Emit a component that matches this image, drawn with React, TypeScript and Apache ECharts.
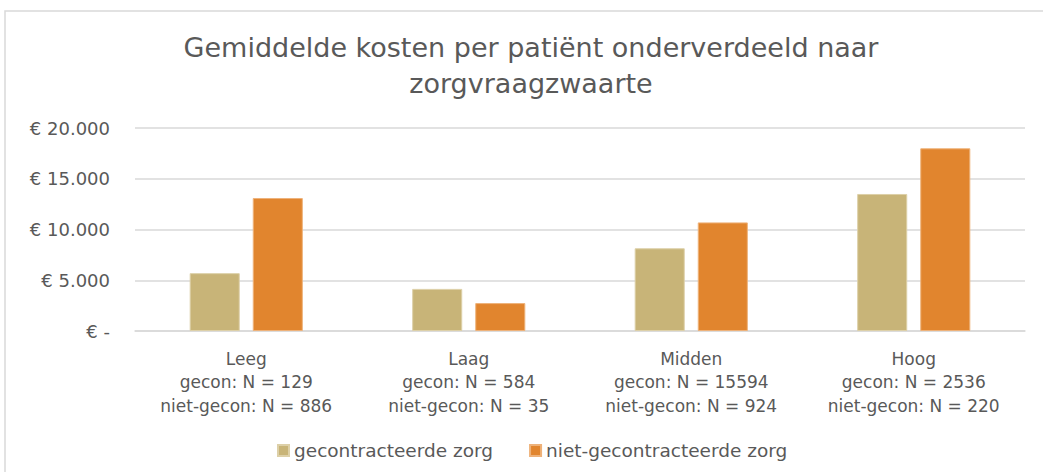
import React, { useEffect, useRef } from "react";
import * as echarts from "echarts";

const categories = ["Leeg", "Laag", "Midden", "Hoog"];
const geconN = [129, 584, 15594, 2536];
const nietGeconN = [886, 35, 924, 220];
const seriesNames = ["gecontracteerde zorg", "niet-gecontracteerde zorg"];
const gecontracteerd = [5700, 4150, 8150, 13500];
const nietGecontracteerd = [13100, 2750, 10700, 18000];
const titleLines = ["Gemiddelde kosten per patiënt onderverdeeld naar", "zorgvraagzwaarte"];

const FONT = "'DejaVu Sans', 'Open Sans', sans-serif";
const TEXT = "#595959";
const GRID = "#d9d9d9";

function formatEuro(v: number): string {
  if (v === 0) return "€ -";
  const s = String(Math.round(v)).replace(/\B(?=(\d{3})+(?!\d))/g, ".");
  return "€ " + s;
}

export default function App() {
  const ref = useRef<HTMLDivElement>(null);
  useEffect(() => {
    if (!ref.current) return;
    const chart = echarts.init(ref.current, null, { renderer: "svg" });
    const xLabels = categories.map(
      (c, i) => `${c}\ngecon: N = ${geconN[i]}\nniet-gecon: N = ${nietGeconN[i]}`
    );
    chart.setOption({
      animation: false,
      backgroundColor: "#ffffff",
      textStyle: { fontFamily: FONT },
      graphic: [
        {
          type: "rect",
          shape: { x: 5, y: 11, width: 1200, height: 600 },
          style: { fill: "none", stroke: GRID, lineWidth: 1.5 },
          silent: true,
        },
        {
          type: "text",
          x: 531,
          y: 47,
          style: {
            text: titleLines[0],
            fill: TEXT,
            fontSize: 27,
            fontFamily: FONT,
            align: "center",
            verticalAlign: "middle",
          },
        },
        {
          type: "text",
          x: 531,
          y: 83,
          style: {
            text: titleLines[1],
            fill: TEXT,
            fontSize: 27,
            fontFamily: FONT,
            align: "center",
            verticalAlign: "middle",
          },
        },
      ],
      grid: { left: 135, right: 18, top: 128, bottom: 141, containLabel: false },
      legend: {
        data: seriesNames,
        top: 436,
        left: 272,
        icon: "rect",
        itemWidth: 11,
        itemHeight: 11,
        itemGap: 36,
        textStyle: { color: TEXT, fontSize: 18.5, fontFamily: FONT },
      },
      xAxis: {
        type: "category",
        data: xLabels,
        axisTick: { show: false },
        axisLine: { lineStyle: { color: GRID, width: 1.5 } },
        axisLabel: {
          interval: 0,
          color: TEXT,
          fontSize: 17,
          lineHeight: 23.5,
          margin: 16,
          fontFamily: FONT,
        },
      },
      yAxis: {
        type: "value",
        min: 0,
        max: 20000,
        interval: 5000,
        axisLine: { show: false },
        axisTick: { show: false },
        splitLine: { lineStyle: { color: GRID, width: 1.5 } },
        axisLabel: {
          color: TEXT,
          fontSize: 18,
          margin: 25,
          fontFamily: FONT,
          formatter: (v: number) => formatEuro(v),
        },
      },
      series: [
        {
          name: seriesNames[0],
          type: "bar",
          data: gecontracteerd,
          barWidth: "22.5%",
          barGap: "26%",
          itemStyle: { color: "#C8B478", borderColor: "#ddd0a8", borderWidth: 1 },
        },
        {
          name: seriesNames[1],
          type: "bar",
          data: nietGecontracteerd,
          barWidth: "22.5%",
          barGap: "26%",
          itemStyle: { color: "#E1852E", borderColor: "#eeb27a", borderWidth: 1 },
        },
      ],
    });
    return () => chart.dispose();
  }, []);
  return (
    <div
      ref={ref}
      style={{ position: "fixed", left: 0, top: 0, width: 1043, height: 472 }}
    />
  );
}
